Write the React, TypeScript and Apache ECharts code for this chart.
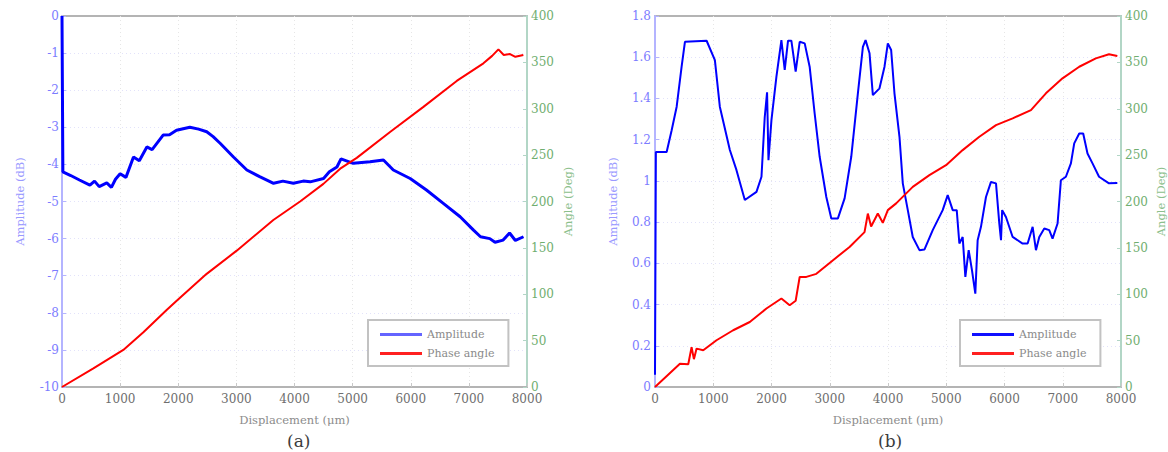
import React, { useEffect, useRef } from "react";
import * as echarts from "echarts";

// ---------- data ----------
const seriesNames = ["Amplitude", "Phase angle"];
const captions = ["(a)", "(b)"];
const xAxisName = "Displacement (μm)";
const ampAxisName = "Amplitude (dB)";
const angleAxisName = "Angle (Deg)";

// (a) amplitude, dB
const amplitudeA: [number, number][] = [
  [0, 0], [15, -4.2], [150, -4.3], [300, -4.42], [480, -4.56], [560, -4.45], [640, -4.6],
  [770, -4.5], [850, -4.62], [920, -4.4], [1000, -4.25], [1100, -4.35], [1230, -3.8],
  [1330, -3.9], [1460, -3.53], [1550, -3.6], [1740, -3.21], [1850, -3.2], [1970, -3.08],
  [2200, -3.0], [2350, -3.05], [2490, -3.12], [2600, -3.25], [2720, -3.43], [2950, -3.8],
  [3180, -4.15], [3400, -4.33], [3640, -4.51], [3800, -4.45], [3980, -4.51], [4150, -4.45],
  [4270, -4.47], [4500, -4.38], [4600, -4.2], [4730, -4.07], [4800, -3.85], [5010, -3.97],
  [5300, -3.93], [5530, -3.88], [5700, -4.15], [5990, -4.38], [6270, -4.69], [6560, -5.05],
  [6850, -5.41], [7080, -5.77], [7200, -5.95], [7360, -6.0], [7450, -6.1], [7590, -6.04],
  [7700, -5.85], [7800, -6.05], [7940, -5.95],
];
// (a) phase angle, deg
const phaseA: [number, number][] = [
  [0, 0], [540, 20], [1055, 40], [1400, 59], [1800, 83], [1973, 93], [2489, 122],
  [3006, 147], [3636, 180], [4096, 200], [4497, 219], [4800, 236], [5071, 247],
  [5644, 275], [6218, 302], [6791, 330], [7250, 349], [7400, 357], [7508, 364],
  [7600, 358], [7708, 359], [7800, 356], [7937, 358],
];
// (b) amplitude, dB
const amplitudeB: [number, number][] = [
  [0, 0.06], [15, 1.14], [200, 1.14], [286, 1.246], [372, 1.36], [457, 1.554], [514, 1.675],
  [886, 1.68], [1028, 1.586], [1113, 1.36], [1285, 1.15], [1399, 1.052], [1542, 0.907],
  [1742, 0.947], [1828, 1.02], [1884, 1.31], [1924, 1.43], [1948, 1.1], [1999, 1.295],
  [2084, 1.505], [2170, 1.683], [2227, 1.538], [2284, 1.68], [2341, 1.68], [2415, 1.53],
  [2484, 1.675], [2570, 1.667], [2655, 1.554], [2741, 1.327], [2827, 1.117], [2941, 0.922],
  [3027, 0.818], [3140, 0.818], [3255, 0.915], [3369, 1.117], [3483, 1.425], [3569, 1.65],
  [3615, 1.683], [3683, 1.619], [3740, 1.416], [3854, 1.449], [3940, 1.554], [3997, 1.667],
  [4054, 1.635], [4111, 1.425], [4197, 1.214], [4254, 0.988], [4340, 0.858], [4425, 0.728],
  [4540, 0.664], [4625, 0.667], [4768, 0.761], [4939, 0.858], [5025, 0.931], [5111, 0.858],
  [5180, 0.858], [5225, 0.696], [5282, 0.728], [5328, 0.534], [5385, 0.664], [5442, 0.566],
  [5499, 0.453], [5539, 0.712], [5596, 0.777], [5682, 0.922], [5768, 0.995], [5854, 0.988],
  [5911, 0.793], [5940, 0.712], [5960, 0.858], [6025, 0.825], [6140, 0.728], [6311, 0.696],
  [6397, 0.696], [6483, 0.777], [6540, 0.664], [6597, 0.728], [6683, 0.769], [6768, 0.761],
  [6825, 0.72], [6911, 0.793], [6968, 1.003], [7054, 1.02], [7140, 1.085], [7197, 1.182],
  [7283, 1.23], [7351, 1.23], [7425, 1.133], [7511, 1.085], [7623, 1.02], [7794, 0.988],
  [7937, 0.99],
];
// (b) phase angle, deg
const phaseB: [number, number][] = [
  [0, 0], [428, 25], [571, 24.5], [628, 43], [668, 30], [714, 41.4], [828, 39.6],
  [1056, 50.4], [1342, 61.2], [1627, 70.1], [1913, 84.6], [2170, 95.4], [2312, 88.2],
  [2415, 93], [2484, 118.7], [2598, 118.7], [2770, 122], [3056, 136.7], [3340, 151],
  [3597, 167], [3654, 187], [3710, 173], [3825, 187], [3911, 177], [3997, 190.7],
  [4140, 198], [4425, 215.8], [4711, 228.4], [4996, 239.2], [5282, 255.4], [5568, 269.8],
  [5854, 282.4], [6140, 289.6], [6454, 298.6], [6711, 316.6], [6996, 332.8], [7283, 345.3],
  [7568, 354.3], [7794, 358.7], [7937, 356.8],
];

// ---------- styles ----------
const FONT = "DejaVu Serif";
const BLUE_AXIS = "#b4b4ff";
const BLUE_LABEL = "#7c7cff";
const GREEN_AXIS = "#b2d6c6";
const GREEN_LABEL = "#6fae6f";
const GRAY = "#b4b4b4";

const plain = (v: number) => String(v);

function xAxisDef(gridIndex: number) {
  return {
    type: "value",
    gridIndex,
    min: 0,
    max: 8000,
    interval: 1000,
    name: xAxisName,
    nameLocation: "middle",
    nameGap: 27,
    nameTextStyle: { fontFamily: FONT, fontSize: 11.5, color: "#8c8c8c" },
    axisLine: { show: true, onZero: false, lineStyle: { color: GRAY, width: 2 } },
    axisTick: { show: true, inside: true, length: 4, lineStyle: { color: "#c8c8c8" } },
    axisLabel: { fontFamily: FONT, fontSize: 12, color: "#6e6e6e", margin: 6, formatter: plain },
    splitLine: { show: true, showMinLine: false, showMaxLine: false, lineStyle: { color: "#e6e6e6", type: [1, 3] } },
  };
}

function ampAxisDef(gridIndex: number, min: number, max: number, interval: number, margin: number) {
  return {
    type: "value",
    gridIndex,
    position: "left",
    min,
    max,
    interval,
    name: ampAxisName,
    nameLocation: "middle",
    nameRotate: 90,
    nameGap: 36,
    nameTextStyle: { fontFamily: FONT, fontSize: 11.5, color: "#9a9aff" },
    axisLine: { show: true, onZero: false, lineStyle: { color: BLUE_AXIS, width: 2 } },
    axisTick: { show: true, inside: true, length: 4, lineStyle: { color: BLUE_AXIS } },
    axisLabel: { fontFamily: FONT, fontSize: 12, color: BLUE_LABEL, margin, formatter: plain },
    splitLine: { show: true, showMinLine: false, showMaxLine: false, lineStyle: { color: "#e2e2fa", type: [1, 3] } },
  };
}

function angleAxisDef(gridIndex: number, nameGap: number) {
  return {
    type: "value",
    gridIndex,
    position: "right",
    min: 0,
    max: 400,
    interval: 50,
    name: angleAxisName,
    nameLocation: "middle",
    nameRotate: 90,
    nameGap,
    nameTextStyle: { fontFamily: FONT, fontSize: 11.5, color: "#8cc08c" },
    axisLine: { show: true, onZero: false, lineStyle: { color: GREEN_AXIS, width: 2 } },
    axisTick: { show: true, inside: true, length: 4, lineStyle: { color: GREEN_AXIS } },
    axisLabel: { fontFamily: FONT, fontSize: 12, color: GREEN_LABEL, margin: 4, formatter: plain },
    splitLine: { show: false },
  };
}

function legendDef(left: number, ampColor: string) {
  return {
    left,
    top: 320,
    orient: "vertical",
    icon: "rect",
    itemWidth: 42,
    itemHeight: 3,
    itemGap: 6,
    padding: [8, 14, 6, 12],
    borderColor: "#c2c2c2",
    borderWidth: 2,
    backgroundColor: "#ffffff",
    selectedMode: false,
    textStyle: { fontFamily: FONT, fontSize: 11, color: "#8a8a8a", lineHeight: 13 },
    data: [
      { name: seriesNames[0], itemStyle: { color: ampColor } },
      { name: seriesNames[1], itemStyle: { color: "#ff2020" } },
    ],
  };
}

export default function App() {
  const ref = useRef<HTMLDivElement>(null);

  useEffect(() => {
    if (!ref.current) return;
    const chart = echarts.init(ref.current, null, { renderer: "svg" });
    const option: any = {
      animation: false,
      backgroundColor: "#ffffff",
      grid: [
        { left: 62, top: 16, width: 465, height: 371, show: true, borderColor: GRAY, borderWidth: 2, backgroundColor: "transparent" },
        { left: 655, top: 16, width: 467, height: 371, show: true, borderColor: GRAY, borderWidth: 2, backgroundColor: "transparent" },
      ],
      xAxis: [xAxisDef(0), xAxisDef(1)],
      yAxis: [
        ampAxisDef(0, -10, 0, 1, 3),
        angleAxisDef(0, 35),
        ampAxisDef(1, 0, 1.8, 0.2, 4),
        angleAxisDef(1, 34),
      ],
      legend: [legendDef(368, "#6464ff"), legendDef(960, "#1010ff")],
      series: [
        {
          name: seriesNames[0], type: "line", xAxisIndex: 0, yAxisIndex: 0, data: amplitudeA,
          symbol: "none", lineStyle: { color: "#0000ff", width: 3 }, itemStyle: { color: "#0000ff" }, z: 3,
        },
        {
          name: seriesNames[1], type: "line", xAxisIndex: 0, yAxisIndex: 1, data: phaseA,
          symbol: "none", lineStyle: { color: "#ff0000", width: 2 }, itemStyle: { color: "#ff0000" }, z: 3,
        },
        {
          name: seriesNames[0], type: "line", xAxisIndex: 1, yAxisIndex: 2, data: amplitudeB,
          symbol: "none", lineStyle: { color: "#0000ff", width: 2 }, itemStyle: { color: "#0000ff" }, z: 3,
        },
        {
          name: seriesNames[1], type: "line", xAxisIndex: 1, yAxisIndex: 3, data: phaseB,
          symbol: "none", lineStyle: { color: "#ff0000", width: 2 }, itemStyle: { color: "#ff0000" }, z: 3,
        },
      ],
      graphic: [
        {
          type: "text", left: 287, top: 432,
          style: { text: captions[0], font: `17px "${FONT}"`, fill: "#3c3c3c" },
        },
        {
          type: "text", left: 878, top: 432,
          style: { text: captions[1], font: `17px "${FONT}"`, fill: "#3c3c3c" },
        },
      ],
    };
    chart.setOption(option);
    return () => chart.dispose();
  }, []);

  return (
    <div
      ref={ref}
      style={{ position: "absolute", left: 0, top: 0, width: 1168, height: 452, background: "#fff" }}
    />
  );
}
